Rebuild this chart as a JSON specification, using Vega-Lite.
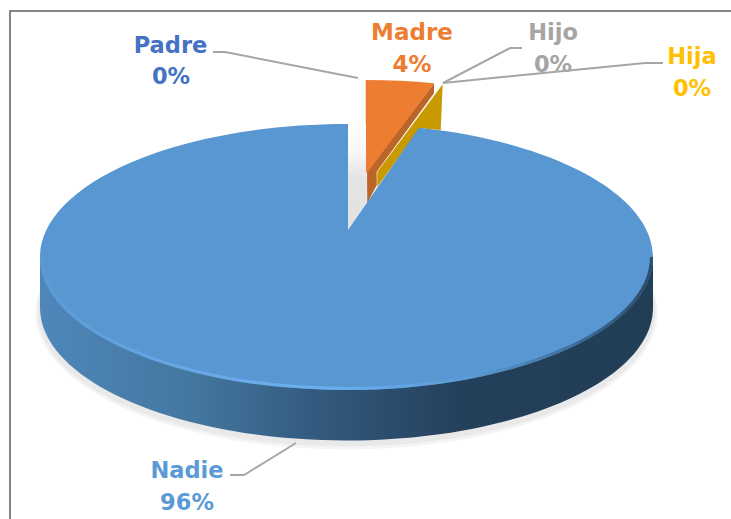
{
"$schema":"https://vega.github.io/schema/vega-lite/v6.json",
"width":731,"height":519,"padding":0,"autosize":{"type":"none"},"background":"white",
"config":{"view":{"stroke":null}},
"data":{"values":[
{"categoria":"Padre","valor":0.0},
{"categoria":"Madre","valor":0.04},
{"categoria":"Hijo","valor":0.0},
{"categoria":"Hija","valor":0.0},
{"categoria":"Nadie","valor":0.96}]},
"layer":[
{"data":{"values":[{"elemento":"marco"}]},"mark":{"type":"point","size":4,"opacity":1,"filled":false,"stroke":"#5f5f5f","strokeWidth":1.5,"shape":"M -355.5,259.5 L -355.5,-248.5 L 365.5,-248.5"}},
{"transform":[{"filter":"datum.categoria==='Nadie'"}],"mark":{"type":"point","size":4,"opacity":1,"filled":true,"fill":"#f4f4f4","shape":"M -330,53 A 311 137 0 1 0 292,53 A 311 137 0 1 0 -330,53 Z"}},
{"transform":[{"filter":"datum.categoria==='Nadie'"}],"mark":{"type":"point","size":4,"opacity":1,"filled":true,"fill":"#e9e9e9","shape":"M -328,52 A 309 135 0 1 0 290,52 A 309 135 0 1 0 -328,52 Z"}},
{"transform":[{"filter":"datum.categoria==='Nadie'"}],"mark":{"type":"point","size":4,"opacity":1,"filled":true,"fill":{"gradient":"linear","x1":0,"x2":1,"y1":0,"y2":0,"stops":[{"offset":0,"color":"#4f87bb"},{"offset":0.25,"color":"#44779f"},{"offset":0.45,"color":"#335a7e"},{"offset":0.7,"color":"#233f59"},{"offset":1,"color":"#223e57"}]},"shape":"M -325.5,-2.5 L -325.5,48 A 306.5 133 0 0 0 287.5,48 L 287.5,-2.5 Z"}},
{"transform":[{"filter":"datum.categoria==='Hija'"}],"mark":{"type":"point","size":4,"opacity":1,"filled":true,"fill":"#c89a00","shape":"M 77.2,-175.2 L 75.2,-129.5 L 54.5,-131.2 L 11.8,-72.8 L 11.8,-87.8 Z"}},
{"transform":[{"filter":"datum.categoria==='Madre'"}],"mark":{"type":"point","size":4,"opacity":1,"filled":true,"fill":"#bc6528","shape":"M 68.5,-176.2 L 68.5,-166.2 L 11.2,-87.8 L 11.2,-74.5 L 1.8,-56.5 L 1.5,-87.8 Z"}},
{"transform":[{"filter":"datum.categoria==='Madre'"}],"mark":{"type":"point","size":4,"opacity":1,"filled":true,"fill":"#ed7d31","shape":"M 0.2,-179.5 Q 35,-179.5 68.5,-176.2 L 2.5,-87.8 L 0.2,-86.5 Z"}},
{"transform":[{"filter":"datum.categoria==='Padre'"}],"mark":{"type":"point","size":4,"opacity":1,"filled":true,"fill":{"gradient":"linear","x1":0,"x2":0,"y1":0,"y2":1,"stops":[{"offset":0,"color":"#ffffff"},{"offset":0.3,"color":"#f6f6f6"},{"offset":0.5,"color":"#e4e4e4"},{"offset":1,"color":"#e2e2e2"}]},"shape":"M -17.5,-136.5 L 0.5,-136.5 L 0.5,-56.5 L -17.5,-29.5 Z"}},
{"transform":[{"filter":"datum.categoria==='Nadie'"}],"mark":{"type":"point","size":4,"opacity":1,"filled":true,"fill":"#5997d3","shape":"M -17.5,-135.5 A 306.5 133 0 0 0 -325.5,-2.5 A 306.5 133 0 0 0 -19,130.5 A 306.5 133 0 0 0 287.5,-2.5 A 306.5 133 0 0 0 53.5,-131.7 L -17.5,-29.5 Z"}},
{"transform":[{"filter":"datum.categoria==='Nadie'"}],"mark":{"type":"point","size":4,"opacity":1,"filled":false,"strokeWidth":3,"stroke":{"gradient":"linear","x1":0,"x2":1,"y1":0,"y2":0,"stops":[{"offset":0,"color":"#5b9bd5"},{"offset":0.25,"color":"#68a8e4"},{"offset":0.45,"color":"#6cb0f0"},{"offset":0.7,"color":"#5b9bd5"},{"offset":0.86,"color":"#41719e"},{"offset":1,"color":"#2b4d6c"}]},"shape":"M -324,-2.5 A 305 131.5 0 0 0 286,-2.5"}},
{"transform":[{"filter":"datum.categoria==='Padre'"}],"mark":{"type":"point","size":4,"opacity":1,"filled":false,"stroke":"#a6a6a6","strokeWidth":2,"shape":"M -152.5,-207.5 L -140.5,-207.5 L -7.5,-181.5"}},
{"transform":[{"filter":"datum.categoria==='Hijo'"}],"mark":{"type":"point","size":4,"opacity":1,"filled":false,"stroke":"#a6a6a6","strokeWidth":2,"shape":"M 156.5,-211.5 L 144.5,-211.5 L 77.5,-176.5"}},
{"transform":[{"filter":"datum.categoria==='Nadie'"}],"mark":{"type":"point","size":4,"opacity":1,"filled":false,"stroke":"#a6a6a6","strokeWidth":2,"shape":"M -135.5,215.5 L -121.5,215.5 L -69.5,183.5"}},
{"transform":[{"filter":"datum.categoria==='Padre'"}],"mark":{"type":"text","font":"DejaVu Sans","fontWeight":"bold","fontSize":22.5,"align":"center","baseline":"middle","color":"#4472c4","dx":-195,"dy":-214},"encoding":{"text":{"field":"categoria"}}},
{"transform":[{"filter":"datum.categoria==='Padre'"}],"mark":{"type":"text","font":"DejaVu Sans","fontWeight":"bold","fontSize":22.5,"align":"center","baseline":"middle","color":"#4472c4","dx":-194.5,"dy":-182.5},"encoding":{"text":{"field":"valor","format":".0%"}}},
{"transform":[{"filter":"datum.categoria==='Madre'"}],"mark":{"type":"text","font":"DejaVu Sans","fontWeight":"bold","fontSize":23,"align":"center","baseline":"middle","color":"#ed7d31","dx":46.5,"dy":-227},"encoding":{"text":{"field":"categoria"}}},
{"transform":[{"filter":"datum.categoria==='Madre'"}],"mark":{"type":"text","font":"DejaVu Sans","fontWeight":"bold","fontSize":23,"align":"center","baseline":"middle","color":"#ed7d31","dx":46.5,"dy":-195},"encoding":{"text":{"field":"valor","format":".0%"}}},
{"transform":[{"filter":"datum.categoria==='Hijo'"}],"mark":{"type":"text","font":"DejaVu Sans","fontWeight":"bold","fontSize":22.5,"align":"center","baseline":"middle","color":"#a5a5a5","dx":187.5,"dy":-226.5},"encoding":{"text":{"field":"categoria"}}},
{"transform":[{"filter":"datum.categoria==='Hijo'"}],"mark":{"type":"text","font":"DejaVu Sans","fontWeight":"bold","fontSize":22.5,"align":"center","baseline":"middle","color":"#a5a5a5","dx":187.5,"dy":-194.5},"encoding":{"text":{"field":"valor","format":".0%"}}},
{"transform":[{"filter":"datum.categoria==='Hija'"}],"mark":{"type":"point","size":4,"opacity":1,"filled":false,"stroke":"#a6a6a6","strokeWidth":2,"shape":"M 297.5,-196.5 L 279.5,-196.5 L 77.5,-176.5"}},
{"transform":[{"filter":"datum.categoria==='Hija'"}],"mark":{"type":"text","font":"DejaVu Sans","fontWeight":"bold","fontSize":22.5,"align":"center","baseline":"middle","color":"#ffc000","dx":326.5,"dy":-203},"encoding":{"text":{"field":"categoria"}}},
{"transform":[{"filter":"datum.categoria==='Hija'"}],"mark":{"type":"text","font":"DejaVu Sans","fontWeight":"bold","fontSize":22.5,"align":"center","baseline":"middle","color":"#ffc000","dx":326.5,"dy":-171},"encoding":{"text":{"field":"valor","format":".0%"}}},
{"transform":[{"filter":"datum.categoria==='Nadie'"}],"mark":{"type":"text","font":"DejaVu Sans","fontWeight":"bold","fontSize":22.5,"align":"center","baseline":"middle","color":"#5b9bd5","dx":-178.5,"dy":211.5},"encoding":{"text":{"field":"categoria"}}},
{"transform":[{"filter":"datum.categoria==='Nadie'"}],"mark":{"type":"text","font":"DejaVu Sans","fontWeight":"bold","fontSize":22.5,"align":"center","baseline":"middle","color":"#5b9bd5","dx":-178.5,"dy":243.5},"encoding":{"text":{"field":"valor","format":".0%"}}}
]}
